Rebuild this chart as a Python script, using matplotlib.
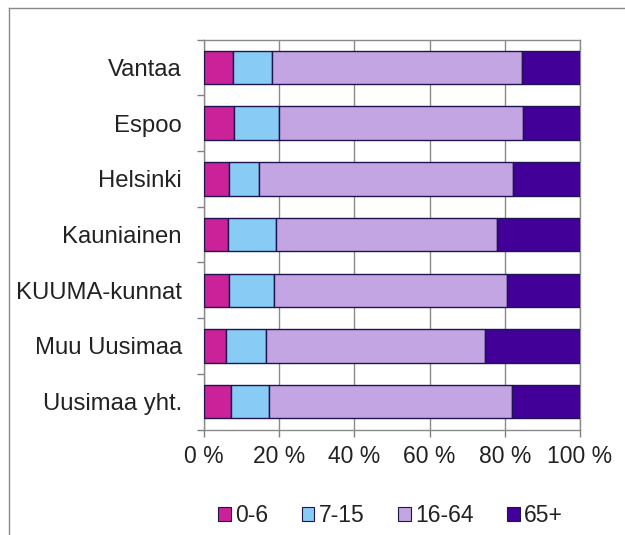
import matplotlib
matplotlib.use("Agg")
import matplotlib.pyplot as plt
from matplotlib.patches import Patch
from matplotlib.lines import Line2D
import numpy as np

plt.rcParams['font.family'] = ['Liberation Sans', 'DejaVu Sans']

categories = ["Vantaa", "Espoo", "Helsinki", "Kauniainen", "KUUMA-kunnat",
              "Muu Uusimaa", "Uusimaa yht."]
series_names = ["0-6", "7-15", "16-64", "65+"]
age_0_6 = [7.6, 8.0, 6.7, 6.3, 6.7, 5.9, 7.1]
age_7_15 = [10.6, 11.9, 8.0, 12.8, 11.9, 10.6, 10.3]
age_16_64 = [66.3, 65.0, 67.6, 58.9, 62.1, 58.2, 64.6]
age_65 = [15.5, 15.1, 17.7, 22.0, 19.3, 25.3, 18.0]
x_ticks = [0, 20, 40, 60, 80, 100]
x_tick_labels = ["0 %", "20 %", "40 %", "60 %", "80 %", "100 %"]

colors = ["#CC2299", "#88CCF5", "#C3A5E3", "#430099"]
edge = "#1E1550"

W, H = 625, 535
fig = plt.figure(figsize=(W / 100, H / 100), dpi=100)
ax = fig.add_axes([204 / W, 1 - 429.5 / H, (580 - 204) / W, (429.5 - 39.5) / H])

y = np.arange(len(categories))
left = np.zeros(len(categories))
for name, vals, c in zip(series_names, [age_0_6, age_7_15, age_16_64, age_65], colors):
    ax.barh(y, vals, left=left, height=0.6, color=c, edgecolor=edge,
            linewidth=1.0, label=name, zorder=3)
    left = left + np.array(vals)

ax.set_xlim(0, 100)
ax.set_ylim(len(categories) - 0.5, -0.5)

ax.set_xticks(x_ticks)
ax.set_xticklabels(x_tick_labels, fontsize=16.5, color="#222222")
ax.set_yticks(y)
ax.set_yticklabels(categories, fontsize=17.2, color="#222222")
ax.set_yticks(np.arange(len(categories) + 1) - 0.5, minor=True)
ax.tick_params(axis='y', which='major', length=0, pad=16)
ax.tick_params(axis='y', which='minor', length=5, width=1, color="#808080", direction='out')
ax.tick_params(axis='x', which='major', length=5, width=1, color="#808080", direction='out', pad=6)

ax.grid(axis='x', color="#8a8a8a", linewidth=1, zorder=0)
for s in ax.spines.values():
    s.set_color("#8a8a8a")
    s.set_linewidth(1)

# legend
handles = [Patch(facecolor=c, edgecolor=edge, linewidth=0.8) for c in colors]
fig.legend(handles, series_names, loc='center', bbox_to_anchor=(0.625, 1 - 516 / H),
           ncol=4, frameon=False, fontsize=16.5, handlelength=0.55, handleheight=0.55,
           handletextpad=0.2, columnspacing=1.45, labelcolor="#222222")

# outer frame (left and top visible)
fig.add_artist(Line2D([9 / W, 9 / W], [0, 1 - 8 / H], transform=fig.transFigure,
                      color="#8a8a8a", linewidth=1))
fig.add_artist(Line2D([9 / W, 1], [1 - 8 / H, 1 - 8 / H], transform=fig.transFigure,
                      color="#8a8a8a", linewidth=1))

fig.savefig("out.png", dpi=100)
